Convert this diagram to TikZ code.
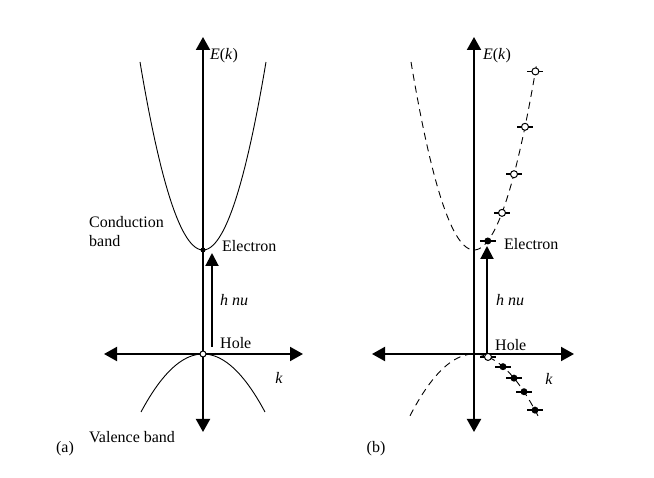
\documentclass[tikz,border=0pt]{standalone}
\usepackage{fontspec}
\setmainfont{Liberation Serif}
\usetikzlibrary{arrows.meta}
\begin{document}
\begin{tikzpicture}[x=1pt,y=-1pt,
  axis/.style={black,line width=2pt,{Triangle[length=13pt,width=14pt]}-{Triangle[length=13pt,width=14pt]}},
  photon/.style={black,line width=2pt,-{Triangle[length=13pt,width=13pt]}},
  band/.style={black,line width=0.9pt},
  dashband/.style={black,line width=0.9pt,dash pattern=on 7pt off 5pt},
  lbl/.style={font=\fontsize{16}{19}\selectfont,inner sep=0pt},
  full/.style={circle,fill=black,inner sep=0pt,minimum size=7pt},
  empty/.style={circle,draw=black,fill=white,line width=1pt,inner sep=0pt,minimum size=7pt},
  kmark/.style={black,line width=1.8pt}]

\useasboundingbox (0,0) rectangle (654,478);

%% - Panel (a): axes
%% - --------------------------------------
\coordinate (aN) at (203,37);
\coordinate (aS) at (203,432);
\coordinate (aW) at (104,354);
\coordinate (aE) at (303,354);
\draw[axis] (aS) -- (aN);
\draw[axis] (aW) -- (aE);

%% - Panel (a): bands
%% - --------------------------------------
\draw[band] plot[domain=-63:63,samples=60] ({203+\x},{250-188*(\x/63)^2});
\draw[band] plot[domain=-62:62,samples=60] ({203+\x},{354+58*(\x/62)^2});

\node[full,minimum size=5pt] (aelec) at (203,250) {};
\node[empty,minimum size=6pt] (ahole) at (203,354) {};

%% - Panel (a): photon
%% - --------------------------------------
\coordinate (aphS) at (212,347);
\coordinate (aphE) at (212,253);
\draw[photon] (aphS) -- (aphE);

%% - Panel (a): text
%% - --------------------------------------
\node[lbl] (aEk) at (224,56) {\textit{E}(\textit{k})};
\node[lbl,anchor=west,align=left] (acond) at (89,232) {Conduction\\band};
\node[lbl,anchor=west] (aelectxt) at (222,246) {Electron};
\node[lbl,anchor=west] (ahnu) at (220,300) {\textit{h nu}};
\node[lbl,anchor=west] (aholetxt) at (220,343) {Hole};
\node[lbl] (ak) at (279,378) {\textit{k}};
\node[lbl,anchor=west] (aval) at (89,437) {Valence band};
\node[lbl] (alab) at (65,449) {(a)};

%% - Panel (b): axes
%% - --------------------------------------
\coordinate (bN) at (474,37);
\coordinate (bS) at (474,432);
\coordinate (bW) at (372,354);
\coordinate (bE) at (574,354);
\draw[axis] (bS) -- (bN);
\draw[axis] (bW) -- (bE);

%% - Panel (b): dashed bands
%% - --------------------------------------
\draw[dashband] plot[domain=-63:63,samples=60] ({474+\x},{250-188*(\x/63)^2});
\draw[dashband] plot[domain=-64:64,samples=60] ({474+\x},{354+58*(\x/62)^2});

%% - Panel (b): occupied and empty states
%% - --------------------------------------
\foreach \dx/\kind [count=\i] in {13.8/full,28/empty,40/empty,51/empty,61.4/empty}{
  \pgfmathsetmacro\yy{250-188*(\dx/63)^2}
  \draw[kmark] ({474+\dx-8},\yy) -- ({474+\dx+8},\yy);
  \node[\kind] (cb\i) at ({474+\dx},\yy) {};
}
\foreach \dx/\kind [count=\i] in {14/empty,29/full,40/full,50/full,61/full}{
  \pgfmathsetmacro\yy{354+58*(\dx/62)^2}
  \draw[kmark] ({474+\dx-8},\yy) -- ({474+\dx+8},\yy);
  \node[\kind] (vb\i) at ({474+\dx},\yy) {};
}

%% - Panel (b): photon
%% - --------------------------------------
\coordinate (bphS) at (487,353);
\coordinate (bphE) at (487,246);
\draw[photon] (bphS) -- (bphE);

%% - Panel (b): text
%% - --------------------------------------
\node[lbl] (bEk) at (497,56) {\textit{E}(\textit{k})};
\node[lbl,anchor=west] (belectxt) at (504,244) {Electron};
\node[lbl,anchor=west] (bhnu) at (496,300) {\textit{h nu}};
\node[lbl,anchor=west] (bholetxt) at (495,345) {Hole};
\node[lbl] (bk) at (549,379) {\textit{k}};
\node[lbl] (blab) at (376,449) {(b)};

\end{tikzpicture}
\end{document}
